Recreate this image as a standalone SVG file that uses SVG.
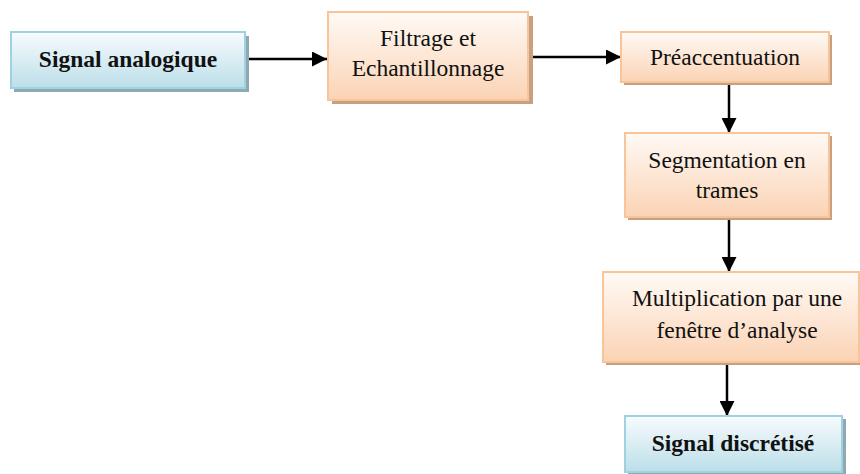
<svg xmlns="http://www.w3.org/2000/svg" width="860" height="474" viewBox="0 0 860 474">
<defs>
<linearGradient id="gBlue" x1="0" y1="0" x2="0" y2="1">
<stop offset="0" stop-color="#f7fbfd"/>
<stop offset="1" stop-color="#bcdfe9"/>
</linearGradient>
<linearGradient id="gOrange" x1="0" y1="0" x2="0" y2="1">
<stop offset="0" stop-color="#fffaf6"/>
<stop offset="1" stop-color="#fbd3b4"/>
</linearGradient>
<marker id="arr" viewBox="0 0 15 15" refX="15" refY="7.5" markerWidth="15" markerHeight="15" markerUnits="userSpaceOnUse" orient="auto">
<path d="M0,0 L15,7.5 L0,15 z" fill="#000"/>
</marker>
</defs>
<style>
.sb{fill:#8fa9b3}
.so{fill:#c9a07f}
.bb{fill:url(#gBlue);stroke:#9fd2e0;stroke-width:2}
.bo{fill:url(#gOrange);stroke:#f8c49a;stroke-width:2}
text{font-family:"Liberation Serif","Times New Roman",serif;font-size:23.5px;fill:#111;text-anchor:middle}
.b{font-weight:bold}
.c{stroke:#000;stroke-width:2.5;fill:none;marker-end:url(#arr)}
</style>
<rect width="860" height="474" fill="#fff"/>
<g id="connectors">
<line class="c" x1="245" y1="59" x2="327" y2="59"/>
<line class="c" x1="528" y1="57" x2="621" y2="57"/>
<line class="c" x1="729" y1="82" x2="729" y2="133"/>
<line class="c" x1="729" y1="217" x2="729" y2="272"/>
<line class="c" x1="727" y1="362" x2="727" y2="416"/>
</g>
<g id="n1">
<rect class="sb" x="14" y="36" width="235" height="56"/>
<rect class="bb" x="11" y="32" width="234" height="56"/>
<text class="b" x="128" y="67">Signal analogique</text>
</g>
<g id="n2">
<rect class="so" x="332" y="16" width="201" height="88"/>
<rect class="bo" x="328" y="12" width="200" height="88"/>
<text x="428" y="46">Filtrage et</text>
<text x="428" y="76">Echantillonnage</text>
</g>
<g id="n3">
<rect class="so" x="624" y="35" width="208" height="50"/>
<rect class="bo" x="621" y="32" width="208" height="50"/>
<text x="725" y="65">Préaccentuation</text>
</g>
<g id="n4">
<rect class="so" x="628" y="136" width="204" height="84"/>
<rect class="bo" x="625" y="133" width="204" height="84"/>
<text x="727" y="168">Segmentation en</text>
<text x="727" y="198">trames</text>
</g>
<g id="n5">
<rect class="so" x="606" y="275" width="256" height="90"/>
<rect class="bo" x="603" y="272" width="256" height="90"/>
<text x="737" y="306">Multiplication par une</text>
<text x="737" y="338">fenêtre d’analyse</text>
</g>
<g id="n6">
<rect class="sb" x="628" y="419" width="218" height="56"/>
<rect class="bb" x="625" y="416" width="217" height="56"/>
<text class="b" x="733" y="451">Signal discrétisé</text>
</g>
</svg>
